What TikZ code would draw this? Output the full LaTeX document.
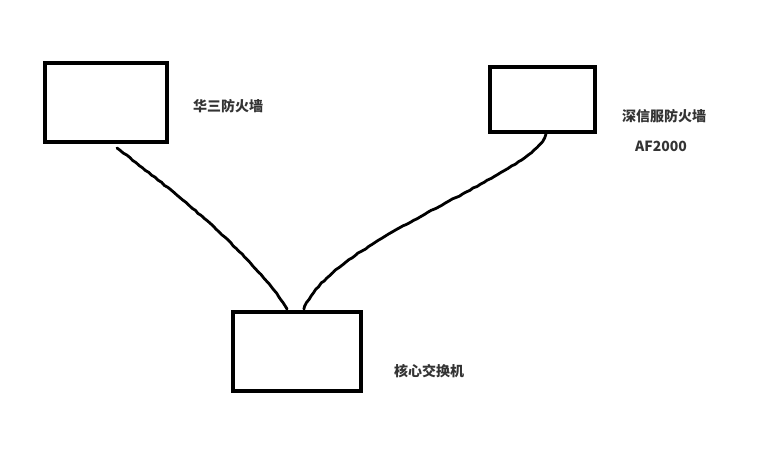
\documentclass[tikz,border=0pt]{standalone}
\usepackage{fontspec}
\newfontfamily\cjk{Noto Sans CJK SC}
\usetikzlibrary{decorations.pathmorphing}
\definecolor{labelgray}{HTML}{333333}
\begin{document}
\begin{tikzpicture}[x=0.75pt,y=-0.75pt]
  \tikzstyle{box}=[draw, line width=2.4pt, outer sep=0pt, inner sep=0pt]
  \tikzstyle{lbl}=[font=\cjk\bfseries\fontsize{10.5pt}{12pt}\selectfont, text=labelgray, inner sep=0pt]
  \tikzstyle{wire}=[line width=2.1pt, line cap=round, decorate,
    decoration={random steps, segment length=3pt, amplitude=0.35pt}]
  \useasboundingbox (0,0) rectangle (782,465);

  \node[box, minimum width=91.5pt, minimum height=59.25pt] (h3) at (106,102.5) {};
  \node[box, minimum width=78.75pt, minimum height=48.75pt] (sxf) at (542.5,99.5) {};
  \node[box, minimum width=96pt, minimum height=59.25pt] (core) at (297,351.5) {};

  \node[lbl] (h3lbl) at (228,106) {华三防火墙};
  \node[lbl] (sxflbl) at (664,116) {深信服防火墙};
  \node[lbl] (aflbl) at (661,146) {AF2000};
  \node[lbl] (corelbl) at (429,371) {核心交换机};

  \draw[wire] ([shift={(11,6)}]h3.south) .. controls (165,185) and (250,250) .. ([shift={(-10,-3)}]core.north);
  \draw[wire] ([shift={(3.5,2)}]sxf.south) .. controls (535,175) and (330,240) .. ([shift={(7,-3)}]core.north);
\end{tikzpicture}
\end{document}
